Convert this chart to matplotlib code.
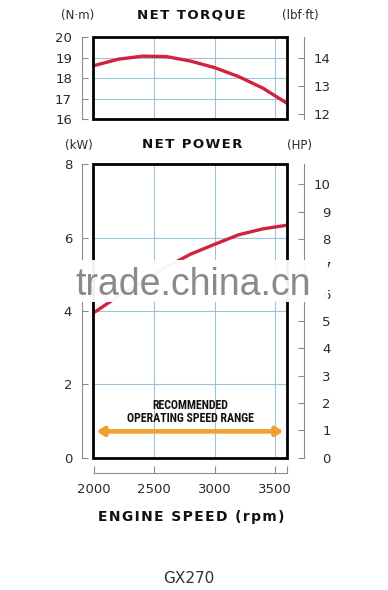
import matplotlib
matplotlib.use('Agg')
import matplotlib.pyplot as plt
from matplotlib import font_manager
from matplotlib.patches import Rectangle

# engine speed (rpm) and the two curves
rpm = [2000, 2200, 2400, 2600, 2800, 3000, 3200, 3400, 3600]
torque_nm = [18.62, 18.93, 19.08, 19.06, 18.84, 18.52, 18.08, 17.52, 16.78]
power_kw = [3.96, 4.40, 4.80, 5.20, 5.55, 5.82, 6.08, 6.24, 6.34]

speed_ticks = [2000, 2500, 3000, 3500]
torque_ticks = [16, 17, 18, 19, 20]
torque_lbf_ticks = [12, 13, 14]
power_ticks = [0, 2, 4, 6, 8]
power_hp_ticks = [0, 1, 2, 3, 4, 5, 6, 7, 8, 9, 10]

# recommended operating range arrow
range_rpm = [2020, 3570]
range_kw = 0.72

NM_TO_LBF = 0.7376
KW_TO_HP = 1.341

RED = '#d2233e'
ORANGE = '#f0a030'
GRID = '#9cc4d6'
AXIS = '#8c8c8c'
TXT = '#2a2a2a'

W, H = 388, 590


def fx(x):
    return x / W


def fy(y):
    return 1 - y / H


def spaced(s, sep='\u200a'):
    return sep.join(s)


names = {f.name for f in font_manager.fontManager.ttflist}
narrow = next((n for n in ['Liberation Sans Narrow', 'DejaVu Sans Condensed',
                           'Roboto Condensed'] if n in names), 'DejaVu Sans')

plt.rcParams['font.family'] = 'DejaVu Sans'

fig = plt.figure(figsize=(W / 100, H / 100), dpi=100)

ax_t = fig.add_axes([fx(92.6), fy(119.3), 194.4 / W, 82 / H])
ax_p = fig.add_axes([fx(92.6), fy(457.8), 194.4 / W, 293.5 / H])


def setup_panel(ax, yticks, yticks2, factor, bottom_axis):
    ax.set_xlim(1988, 3600)
    ax.set_ylim(yticks[0], yticks[-1])
    ax.set_yticks(yticks)
    for x in speed_ticks[1:]:
        ax.axvline(x, color=GRID, lw=0.8, zorder=1)
    for y in yticks[1:-1]:
        ax.axhline(y, color=GRID, lw=0.8, zorder=1)
    ax.spines['top'].set_visible(False)
    ax.spines['right'].set_visible(False)
    ax.spines['left'].set_position(('outward', 7.5))
    ax.spines['left'].set_color(AXIS)
    ax.spines['left'].set_linewidth(0.8)
    ax.tick_params(axis='y', direction='in', length=4.3, width=0.8, color=AXIS,
                   pad=7.3, labelsize=9.5, labelcolor=TXT)
    if bottom_axis:
        ax.set_xticks(speed_ticks)
        ax.set_xticks([3600], minor=True)
        ax.spines['bottom'].set_position(('outward', 10.8))
        ax.spines['bottom'].set_bounds(2000, 3600)
        ax.spines['bottom'].set_color(AXIS)
        ax.spines['bottom'].set_linewidth(0.8)
        ax.tick_params(axis='x', which='both', direction='in', length=4.8, width=0.8,
                       color=AXIS, pad=7, labelsize=9.5, labelcolor=TXT)
    else:
        ax.spines['bottom'].set_visible(False)
        ax.tick_params(axis='x', bottom=False, labelbottom=False)
    ax.add_patch(Rectangle((0, 0), 1, 1, transform=ax.transAxes, fill=False,
                           lw=2, ec='black', zorder=4, clip_on=False))

    ax2 = ax.twinx()
    ax2.set_ylim(yticks[0] * factor, yticks[-1] * factor)
    ax2.set_yticks(yticks2)
    for s in ['left', 'top', 'bottom']:
        ax2.spines[s].set_visible(False)
    ax2.spines['right'].set_position(('outward', 12.2))
    ax2.spines['right'].set_color(AXIS)
    ax2.spines['right'].set_linewidth(0.8)
    ax2.tick_params(axis='y', direction='in', length=4.3, width=0.8, color=AXIS,
                    pad=19.4, labelsize=9.5, labelcolor=TXT)
    plt.setp(ax2.get_yticklabels(), ha='right')
    return ax2


setup_panel(ax_t, torque_ticks, torque_lbf_ticks, NM_TO_LBF, False)
setup_panel(ax_p, power_ticks, power_hp_ticks, KW_TO_HP, True)

ax_t.plot(rpm, torque_nm, color=RED, lw=2.4, zorder=3, solid_capstyle='butt')
ax_p.plot(rpm, power_kw, color=RED, lw=2.4, zorder=3, solid_capstyle='butt')

ax_p.annotate('', xy=(range_rpm[1], range_kw), xytext=(range_rpm[0], range_kw),
              arrowprops=dict(arrowstyle='<|-|>,head_length=0.4,head_width=0.25',
                              color=ORANGE, lw=3.3, shrinkA=0, shrinkB=0),
              zorder=3)

# titles and unit labels
title_kw = dict(ha='center', va='center', fontsize=9.6, fontweight='bold', color='#111111')
fig.text(fx(191), fy(15), spaced('NET TORQUE'), **title_kw)
fig.text(fx(192), fy(145), spaced('NET POWER'), **title_kw)
unit_kw = dict(ha='center', va='center', fontsize=8.5, color=TXT)
fig.text(fx(78), fy(15), '(N·m)', **unit_kw)
fig.text(fx(300), fy(15), '(lbf·ft)', **unit_kw)
fig.text(fx(79), fy(145), '(kW)', **unit_kw)
fig.text(fx(300), fy(145), '(HP)', **unit_kw)
fig.text(fx(191.7), fy(516.7), spaced('ENGINE SPEED (rpm)'),
         ha='center', va='center', fontsize=10, fontweight='bold', color='#111111')
fig.text(fx(189), fy(578.5), 'GX270', ha='center', va='center', fontsize=11, color='#333333')

rec = fig.text(fx(190), fy(412), 'RECOMMENDED\nOPERATING SPEED RANGE', ha='center',
               va='center', fontsize=8, fontweight='bold', family=narrow,
               linespacing=1.0, color='#111111')
# fit the label to its width in the picture
fig.canvas.draw()
wpx = rec.get_window_extent().width
rec.set_fontsize(8 * 127 / wpx)

# watermark band over the middle of the power chart
fig.add_artist(Rectangle((fx(58), fy(302)), 270 / W, 42 / H, transform=fig.transFigure,
                         fc='white', ec='none', alpha=0.95, zorder=5))
fig.text(fx(193.3), fy(295), 'trade.china.cn', ha='center', va='baseline', fontsize=27,
         family='Liberation Sans', color='#8a8a8a', zorder=6)

fig.savefig('out.png', dpi=100)
